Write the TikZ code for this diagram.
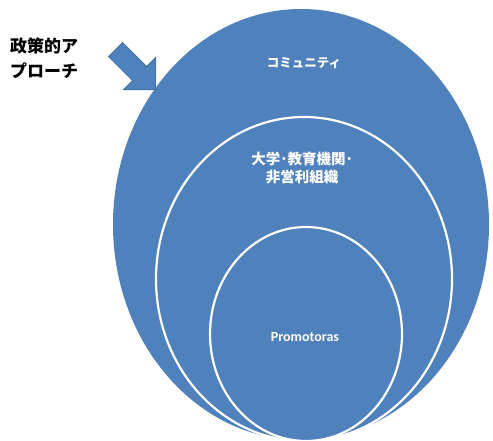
\documentclass[tikz,border=0pt]{standalone}
\usepackage{fontspec}
\setmainfont{Carlito}
\newfontfamily\jp{Noto Sans CJK JP}
\usetikzlibrary{shapes.geometric}
\definecolor{blu}{HTML}{4F81BD}
\definecolor{bluedge}{HTML}{3C679A}
\begin{document}
\begin{tikzpicture}[x=1pt,y=-1pt,
  ring/.style={ellipse, inner sep=0pt, fill=blu},
  whitering/.style={ring, draw=white, line width=2.2pt},
  jplabel/.style={text=white, align=center, inner sep=0pt},
  enlabel/.style={text=white, font=\bfseries\fontsize{14}{17}\selectfont, inner sep=0pt},
  policylabel/.style={text=black, font=\jp\bfseries\fontsize{17}{25}\selectfont, align=left, inner sep=0pt},
  arrowbody/.style={fill=blu, draw=bluedge, line width=0.6pt, line join=miter}]
\useasboundingbox (0,0) rectangle (493,441);
\node[ring, minimum width=376pt, minimum height=431pt] (community) at (301,224.5) {};
\node[whitering, minimum width=296pt, minimum height=324pt] (univ) at (304,279) {};
\node[whitering, minimum width=192pt, minimum height=214pt] (prom) at (306,334) {};
\node[jplabel, font=\jp\bfseries\fontsize{12.5}{15}\selectfont] (commlabel) at (304,63) {コミュニティ};
\node[jplabel, font=\jp\bfseries\fontsize{14.5}{18}\selectfont] (univlabel) at (302,168) {大学･教育機関･\\非営利組織};
\node[enlabel] (promlabel) at (305,337) {Promotoras};
\node[policylabel, anchor=north west] (policy) at (10,38) {政策的ア\\プローチ};
\draw[arrowbody] (122.6,42.4) -- (146.6,66.5) -- (155.8,57.3) -- (155.8,89.8)
  -- (123.3,89.8) -- (132.4,80.6) -- (108.4,56.6) -- cycle;
\end{tikzpicture}
\end{document}
